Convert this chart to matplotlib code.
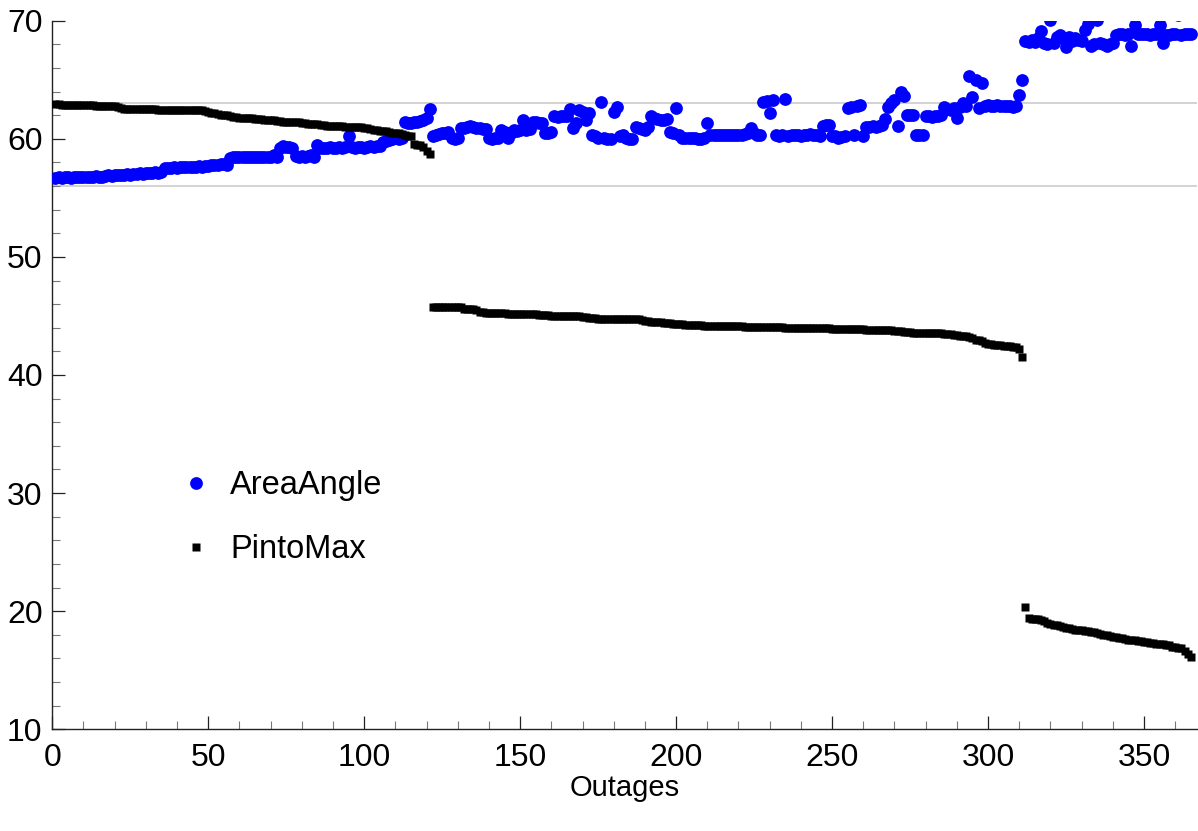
import numpy as np
import matplotlib
matplotlib.use('Agg')
import matplotlib.pyplot as plt
from matplotlib.ticker import MultipleLocator

plt.rcParams['font.family'] = ['Liberation Sans', 'DejaVu Sans']

# AreaAngle, one value per outage (1..365)
area_angle = [
    56.7, 56.75, 56.7, 56.8, 56.75, 56.7, 56.8, 56.8, 56.75, 56.8,
    56.8, 56.75, 56.8, 56.85, 56.8, 56.8, 56.85, 56.9, 56.85, 56.9,
    56.9, 56.95, 56.9, 57.0, 56.95, 57.0, 57.0, 57.1, 57.05, 57.1,
    57.1, 57.1, 57.15, 57.1, 57.2, 57.5, 57.55, 57.5, 57.6, 57.55,
    57.6, 57.6, 57.65, 57.6, 57.6, 57.65, 57.7, 57.65, 57.7, 57.7,
    57.75, 57.8, 57.8, 57.85, 57.9, 57.8, 58.4, 58.45, 58.5, 58.45,
    58.45, 58.5, 58.45, 58.5, 58.5, 58.45, 58.5, 58.5, 58.45, 58.5,
    58.6, 58.5, 59.2, 59.35, 59.3, 59.3, 59.25, 58.55, 58.5, 58.55,
    58.5, 58.55, 58.6, 58.5, 59.45, 59.2, 59.2, 59.25, 59.3, 59.2,
    59.25, 59.3, 59.2, 59.3, 60.2, 59.3, 59.25, 59.3, 59.3, 59.2,
    59.3, 59.35, 59.3, 59.35, 59.4, 59.7, 59.8, 59.9, 60.0, 60.05,
    60.0, 60.1, 61.4, 61.35, 61.3, 61.4, 61.4, 61.5, 61.6, 61.8, 62.5,
    60.2, 60.3, 60.4, 60.5, 60.5, 60.6, 60.1, 60.0, 60.05,
    60.9, 60.95, 61.0, 61.05, 61.0, 60.95, 60.9, 60.8, 60.8, 60.05,
    60.0, 60.05, 60.1, 60.75, 60.6, 60.05, 60.5, 60.75, 60.7, 60.75,
    61.6, 60.75, 60.8, 61.45, 61.4, 61.3, 61.35, 60.5, 60.5, 60.55,
    61.9, 61.85, 61.9, 61.9, 61.95, 62.5, 60.9, 61.3, 62.4, 62.3,
    61.6, 62.2, 60.3, 60.2, 60.1, 63.15, 60.1, 60.0, 60.0, 62.3,
    62.7, 60.2, 60.3, 60.1, 60.0, 60.0, 61.0, 60.9, 60.8, 60.75,
    61.0, 61.9, 61.8, 61.7, 61.6, 61.6, 61.7, 60.6, 60.5, 62.65,
    60.3, 60.1, 60.1, 60.05, 60.1, 60.1, 60.0, 60.0, 60.1, 61.3,
    60.3, 60.3, 60.3, 60.3, 60.3, 60.3, 60.3, 60.3, 60.3, 60.3,
    60.35, 60.4, 60.5, 60.9, 60.5, 60.3, 60.3, 63.1, 63.2, 62.15,
    63.3, 60.3, 60.25, 60.3, 63.35, 60.2, 60.3, 60.35, 60.3, 60.2,
    60.3, 60.35, 60.4, 60.3, 60.3, 60.2, 61.1, 61.2, 61.15, 60.2,
    60.2, 60.1, 60.15, 60.2, 62.65, 62.7, 60.3, 62.8, 62.85, 60.2,
    61.0, 61.0, 61.1, 61.0, 61.05, 61.2, 61.7, 62.7, 63.0, 63.3,
    61.05, 63.95, 63.6, 62.0, 62.0, 62.0, 60.3, 60.3, 60.3, 61.9,
    61.9, 61.85, 61.9, 61.95, 62.0, 62.7, 62.5, 62.4, 62.6, 61.8,
    62.7, 63.0, 62.8, 65.35, 63.5, 65.0, 62.6, 64.75, 62.8, 62.85,
    62.8, 62.8, 62.85, 62.8, 62.8, 62.75, 62.8, 62.7, 62.8, 63.7, 64.95,
    68.3, 68.2, 68.4, 68.2, 68.5, 69.1, 68.1, 68.0, 70.1,
    68.1, 68.6, 68.8, 68.5, 67.8, 68.6, 68.3, 68.5, 68.4, 68.3,
    69.2, 69.7, 67.9, 68.0, 70.1, 68.1, 68.0, 67.9, 68.0, 68.1,
    68.8, 68.9, 68.9, 68.8, 68.9, 67.9, 69.6, 68.9, 68.9, 68.9,
    68.9, 68.8, 68.9, 68.9, 69.6, 68.1, 68.8, 68.8, 68.9, 68.9,
    70.5, 68.8, 68.9, 68.9, 68.9,
]

# PintoMax, same outages
pinto_max = [
    62.92, 62.92, 62.9, 62.9, 62.88, 62.88, 62.86, 62.86, 62.85, 62.84,
    62.83, 62.82, 62.82, 62.8, 62.8, 62.8, 62.79, 62.78, 62.78, 62.77,
    62.7, 62.6, 62.56, 62.55, 62.53, 62.52, 62.52, 62.5, 62.5, 62.5,
    62.5, 62.5, 62.49, 62.48, 62.48, 62.47, 62.46, 62.45, 62.45, 62.45,
    62.44, 62.44, 62.43, 62.43, 62.42, 62.42, 62.41, 62.4, 62.38, 62.3,
    62.2, 62.15, 62.1, 62.05, 62.0, 61.98, 61.95, 61.85, 61.82, 61.8,
    61.78, 61.76, 61.74, 61.72, 61.7, 61.68, 61.65, 61.62, 61.6, 61.58,
    61.55, 61.52, 61.48, 61.46, 61.45, 61.44, 61.43, 61.42, 61.4, 61.35,
    61.3, 61.28, 61.27, 61.26, 61.25, 61.2, 61.15, 61.12, 61.1, 61.1,
    61.08, 61.06, 61.05, 61.04, 61.03, 61.02, 61.0, 61.0, 60.98, 60.95,
    60.9, 60.85, 60.75, 60.72, 60.7, 60.7, 60.68, 60.6, 60.52, 60.48,
    60.45, 60.4, 60.3, 60.22, 60.2, 59.6, 59.5, 59.45, 59.3, 59.0, 58.7,
    45.8, 45.8, 45.78, 45.78, 45.77, 45.76, 45.76, 45.75, 45.74, 45.74,
    45.6, 45.58, 45.56, 45.55, 45.5, 45.35, 45.3, 45.28, 45.28, 45.27,
    45.27, 45.26, 45.25, 45.22, 45.2, 45.18, 45.17, 45.17, 45.16, 45.16,
    45.15, 45.15, 45.14, 45.13, 45.12, 45.05, 45.04, 45.04, 45.03, 45.03,
    45.02, 45.02, 45.0, 45.0, 45.0, 44.98, 44.97, 44.96, 44.95, 44.9,
    44.8, 44.8, 44.79, 44.78, 44.78, 44.77, 44.77, 44.76, 44.76, 44.75,
    44.75, 44.74, 44.74, 44.73, 44.72, 44.72, 44.7, 44.65, 44.6, 44.55,
    44.5, 44.48, 44.46, 44.45, 44.42, 44.4, 44.38, 44.35, 44.33, 44.3,
    44.28, 44.26, 44.25, 44.24, 44.22, 44.2, 44.2, 44.19, 44.18, 44.18,
    44.17, 44.17, 44.16, 44.16, 44.15, 44.15, 44.15, 44.14, 44.14, 44.13,
    44.1, 44.06, 44.05, 44.05, 44.05, 44.04, 44.04, 44.04, 44.04, 44.03,
    44.03, 44.03, 44.03, 44.02, 44.02, 44.02, 44.02, 44.02, 44.01, 44.01,
    44.01, 44.0, 44.0, 44.0, 44.0, 43.98, 43.97, 43.95, 43.93, 43.92,
    43.92, 43.92, 43.91, 43.91, 43.9, 43.9, 43.9, 43.89, 43.88, 43.85,
    43.82, 43.81, 43.81, 43.8, 43.8, 43.8, 43.79, 43.78, 43.76, 43.75,
    43.72, 43.68, 43.62, 43.6, 43.59, 43.58, 43.58, 43.57, 43.56, 43.55,
    43.55, 43.54, 43.53, 43.52, 43.5, 43.48, 43.45, 43.4, 43.35, 43.33,
    43.3, 43.28, 43.25, 43.15, 43.0, 42.95, 42.9, 42.75, 42.65, 42.6,
    42.58, 42.55, 42.5, 42.45, 42.43, 42.42, 42.4, 42.35, 42.2, 41.55,
    20.35, 19.4, 19.35, 19.3, 19.3, 19.25, 19.2, 19.0, 18.9, 18.85,
    18.8, 18.75, 18.7, 18.6, 18.55, 18.5, 18.45, 18.45, 18.4, 18.35,
    18.3, 18.25, 18.2, 18.15, 18.05, 18.0, 17.95, 17.9, 17.85, 17.8,
    17.75, 17.7, 17.65, 17.6, 17.55, 17.55, 17.5, 17.45, 17.4, 17.35,
    17.3, 17.3, 17.25, 17.2, 17.2, 17.15, 17.1, 17.0, 16.95, 16.9,
    16.85, 16.6, 16.4, 16.15,
]

ref_lines = [56, 63]

outages_a = np.arange(1, len(area_angle) + 1)
outages_p = np.arange(1, len(pinto_max) + 1)

fig = plt.figure(figsize=(11.98, 8.31), dpi=100)
ax = fig.add_axes([52.3 / 1198, 101.7 / 831, 1144.7 / 1198, 708.6 / 831])

for yv in ref_lines:
    ax.axhline(yv, color='#cccccc', lw=1.2, zorder=1)

ax.plot(outages_a, area_angle, 'o', color='#0000ff', ms=9.2, mec='none',
        label='AreaAngle', zorder=3)
ax.plot(outages_p, pinto_max, 's', color='black', ms=5.2, mec='none',
        label='PintoMax', zorder=4)

ax.set_xlim(0, 367)
ax.set_ylim(10, 70)

ax.spines['top'].set_visible(False)
ax.spines['right'].set_visible(False)
for s in ('left', 'bottom'):
    ax.spines[s].set_linewidth(1.0)
    ax.spines[s].set_color('#222222')

ax.xaxis.set_major_locator(MultipleLocator(50))
ax.xaxis.set_minor_locator(MultipleLocator(10))
ax.yaxis.set_major_locator(MultipleLocator(10))
ax.yaxis.set_minor_locator(MultipleLocator(2))
ax.tick_params(which='major', direction='in', length=9.5, width=0.9,
               color='#222222', labelsize=23)
ax.tick_params(which='minor', direction='in', length=5.5, width=0.8,
               color='#777777')
ax.tick_params(axis='x', which='major', pad=10)
ax.tick_params(axis='y', which='major', pad=7)

ax.set_xlabel('Outages', fontsize=21, labelpad=0.5)

ax.legend(loc='upper left', bbox_to_anchor=(0.103, 0.389), frameon=False,
          fontsize=23.5, handlelength=0.6, handletextpad=0.73,
          labelspacing=1.02, borderpad=0, markerscale=1.0)

fig.savefig('out.png', dpi=100)
